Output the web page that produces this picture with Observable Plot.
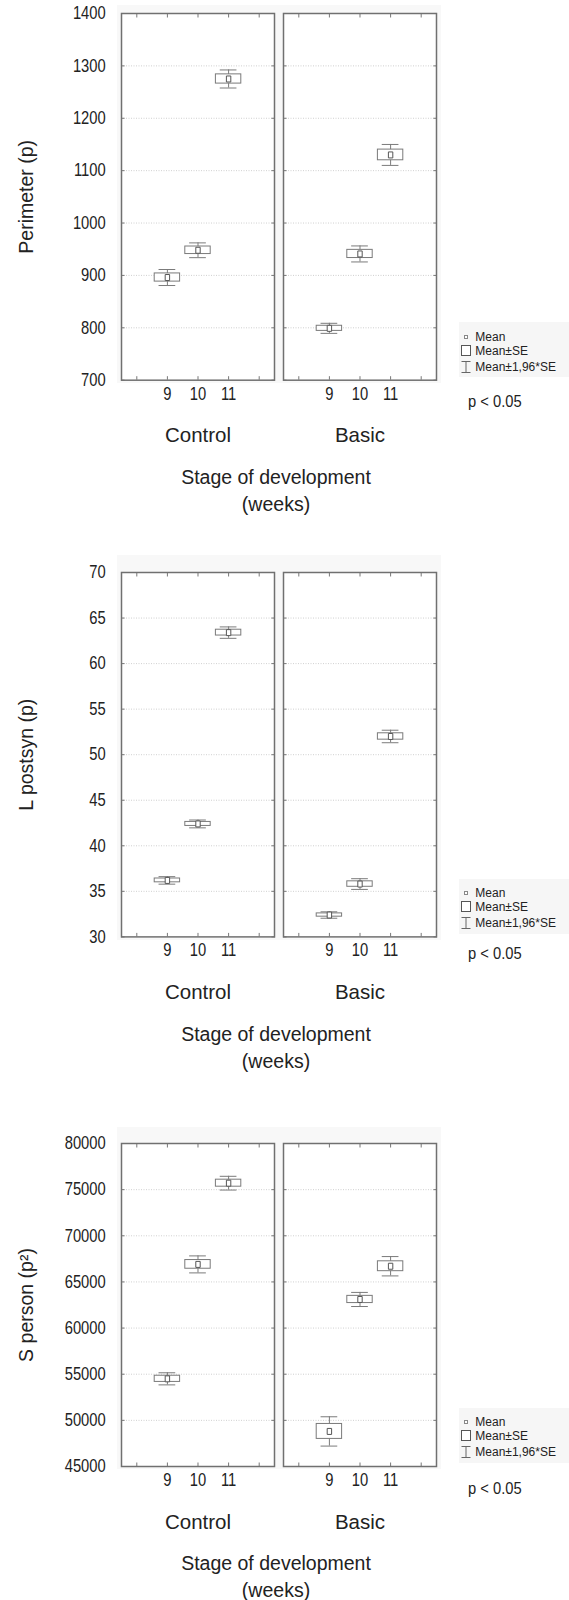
<!DOCTYPE html>
<html><head><meta charset="utf-8">
<script src="https://cdn.jsdelivr.net/npm/d3@7"></script>
<script src="https://cdn.jsdelivr.net/npm/@observablehq/plot@0.6"></script>
<style>
body{margin:0;background:#fff;}
#root{position:relative;width:569px;height:1600px;overflow:hidden;color:#222;font-family:"Liberation Sans",Arial,sans-serif;}
.abs{position:absolute;white-space:nowrap;}
</style></head><body><div id="root"></div>
<script>
// ---- data ----
const groups = ["Control", "Basic"];
const stages = [9, 10, 11];
const xTickMarks = [8, 9, 10, 11, 12];
const xTickLabels = [9, 10, 11];

const perimeterMean = [896, 948, 1275, 799, 941, 1130];
const perimeterSE = [7.8, 7.2, 8.8, 4.9, 7.8, 10.2];
const perimeterTicks = [700, 800, 900, 1000, 1100, 1200, 1300, 1400];

const lpostsynMean = [36.2, 42.4, 63.4, 32.4, 35.8, 52.0];
const lpostsynSE = [0.21, 0.22, 0.32, 0.18, 0.30, 0.35];
const lpostsynTicks = [30, 35, 40, 45, 50, 55, 60, 65, 70];

const spersonMean = [54500, 66900, 75700, 48800, 63100, 66700];
const spersonSE = [335, 470, 380, 810, 390, 535];
const spersonTicks = [45000, 50000, 55000, 60000, 65000, 70000, 75000, 80000];

const yLabels = ["Perimeter (p)", "L postsyn (p)", "S person (p\u00B2)"];
const axisTitleLines = ["Stage of development", "(weeks)"];
const legendLabels = ["Mean", "Mean\u00B1SE", "Mean\u00B11,96*SE"];
const significance = "p < 0.05";

// ---- layout (not data) ----
const FONT = '"Liberation Sans",Arial,sans-serif';
const panels = [
  {mean: perimeterMean, se: perimeterSE, ticks: perimeterTicks, label: yLabels[0], T: 13.3, B: 380, bgTop: 5, pOff: 22},
  {mean: lpostsynMean, se: lpostsynSE, ticks: lpostsynTicks, label: yLabels[1], T: 572.3, B: 936.7, bgTop: 555, pOff: 17},
  {mean: spersonMean, se: spersonSE, ticks: spersonTicks, label: yLabels[2], T: 1142.7, B: 1465.7, bgTop: 1127.3, pOff: 23}
];
const BOX = 0.415, CAP = 0.273;
const meanSymbol = {draw(c) { c.moveTo(-2.2, -3); c.lineTo(2.2, -3); c.lineTo(2.2, 3); c.lineTo(-2.2, 3); c.closePath(); }};
const root = document.getElementById("root");

function div(css, text) {
  const d = document.createElement("div");
  d.className = "abs";
  d.style.cssText = css;
  if (text != null) d.textContent = text;
  root.appendChild(d);
  return d;
}

panels.forEach(p => {
  const data = groups.flatMap((g, gi) => stages.map((s, si) => ({
    group: g, stage: s, mean: p.mean[gi * 3 + si], se: p.se[gi * 3 + si]
  })));
  const mt = 12, mb = 75;
  // light plot-area background
  div(`left:117px;top:${p.bgTop}px;width:324px;height:${p.B + 3 - p.bgTop}px;background:#f8f8f8;`);

  const ticks = p.ticks;
  const chart = Plot.plot({
    width: 569,
    height: (p.B - p.T) + mt + mb,
    marginLeft: 121, marginRight: 133, marginTop: mt, marginBottom: mb,
    style: {background: "transparent", fontFamily: FONT, color: "#222", overflow: "visible"},
    fx: {domain: groups, paddingInner: 0.0556, paddingOuter: 0, round: false},
    x: {domain: [7.5, 12.5]},
    y: {domain: [ticks[0], ticks[ticks.length - 1]]},
    marks: [
      Plot.frame({fill: "white", stroke: null}),
      Plot.gridY(ticks.slice(1, -1), {stroke: "#b0b0b0", strokeOpacity: 0.6, strokeDasharray: "1,1.5"}),
      Plot.axisY(ticks, {anchor: "left", facetAnchor: null, tickSize: -3.5, fill: "none", stroke: "#777", label: null}),
      Plot.axisY(ticks, {anchor: "right", facetAnchor: null, tickSize: -3.5, fill: "none", stroke: "#777", label: null}),
      Plot.axisX(xTickMarks, {anchor: "bottom", tickSize: -3.5, fill: "none", stroke: "#777", label: null}),
      Plot.axisX(xTickMarks, {anchor: "top", tickSize: -3.5, fill: "none", stroke: "#777", label: null}),
      Plot.axisY(ticks, {anchor: "left", tickSize: 0, tickPadding: 15.8, fontSize: 18, label: p.label,
        labelAnchor: "center", labelArrow: "none", labelOffset: 102.7, tickFormat: d => String(d)}),
      Plot.axisX(xTickLabels, {anchor: "bottom", tickSize: 0, tickPadding: 6.7, fontSize: 18, label: null}),
      Plot.axisFx({anchor: "bottom", tickSize: 0, tickPadding: 47.5, fontSize: 20.5, label: null}),
      Plot.ruleX(data, {fx: "group", x: "stage", y1: d => d.mean - 1.96 * d.se, y2: d => d.mean + 1.96 * d.se, stroke: "#7a7a7a"}),
      Plot.ruleY(data, {fx: "group", y: d => d.mean - 1.96 * d.se, x1: d => d.stage - CAP, x2: d => d.stage + CAP, stroke: "#7a7a7a"}),
      Plot.ruleY(data, {fx: "group", y: d => d.mean + 1.96 * d.se, x1: d => d.stage - CAP, x2: d => d.stage + CAP, stroke: "#7a7a7a"}),
      Plot.rect(data, {fx: "group", x1: d => d.stage - BOX, x2: d => d.stage + BOX, y1: d => d.mean - d.se, y2: d => d.mean + d.se, fill: "white", stroke: "#7a7a7a"}),
      Plot.dot(data, {fx: "group", x: "stage", y: "mean", symbol: meanSymbol, fill: "white", stroke: "#555", strokeWidth: 1}),
      Plot.frame({stroke: "#707070", strokeWidth: 1.5})
    ]
  });
  chart.style.position = "absolute";
  chart.style.left = "0px";
  chart.style.top = (p.T - mt) + "px";
  root.appendChild(chart);
  // condensed numerals for the tick labels
  chart.querySelectorAll('g[aria-label="y-axis tick label"] text, g[aria-label="x-axis tick label"] text').forEach(t => {
    t.setAttribute("transform", (t.getAttribute("transform") || "") + " scale(0.82,1)");
  });
  chart.querySelectorAll('g[aria-label="y-axis label"] text').forEach(t => {
    t.setAttribute("font-size", 19.5);
    t.style.fontSize = "19.5px";
  });

  // x axis title (two lines)
  div(`left:126px;width:300px;text-align:center;top:${p.B + 97 - 11}px;height:22px;line-height:22px;font-size:19.5px;`, axisTitleLines[0]);
  div(`left:126px;width:300px;text-align:center;top:${p.B + 124 - 11}px;height:22px;line-height:22px;font-size:19.5px;`, axisTitleLines[1]);

  // legend
  div(`left:459px;top:${p.B - 58}px;width:110px;height:55px;background:#f6f6f6;`);
  const rowsY = [p.B - 43.3, p.B - 29.3, p.B - 13.3];
  const symbols = [
    '<rect x="3.5" y="5.5" width="3" height="3" fill="white" stroke="#888"/>',
    '<rect x="0.5" y="1.5" width="9" height="10" fill="white" stroke="#555"/>',
    '<path d="M0.5,1.5H9.5M5,1.5V12.5M0.5,12.5H9.5" fill="none" stroke="#666"/>'
  ];
  legendLabels.forEach((lab, i) => {
    const s = div(`left:461px;top:${rowsY[i] - 7}px;width:10px;height:14px;`);
    s.innerHTML = `<svg width="10" height="14" style="display:block">${symbols[i]}</svg>`;
    div(`left:475.3px;top:${rowsY[i] - 7}px;height:14px;line-height:14px;font-size:12px;`, lab);
  });
  div(`left:468px;top:${p.B + p.pOff - 10}px;height:20px;line-height:20px;font-size:16px;transform:scaleX(0.92);transform-origin:0 50%;`, significance);
});
</script></body></html>
